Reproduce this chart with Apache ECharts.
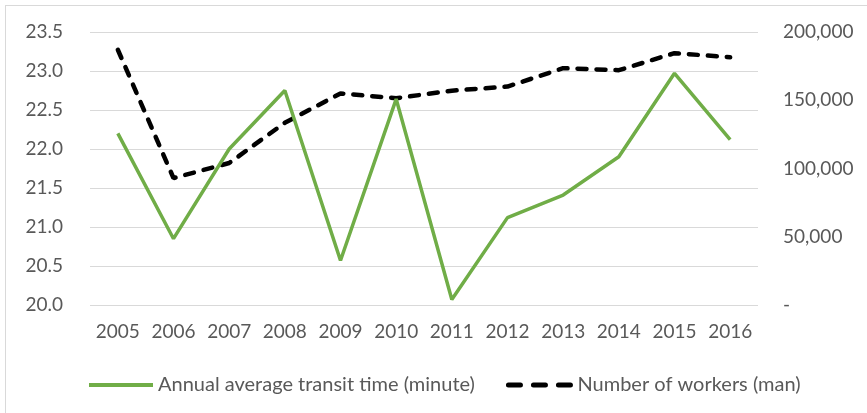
<!DOCTYPE html>
<html>
<head>
<meta charset="utf-8">
<script src="https://cdn.jsdelivr.net/npm/echarts@6/dist/echarts.min.js"></script>
<style>
  html, body { margin: 0; padding: 0; background: #fff; }
  #frame { position: absolute; left: 5px; top: 5px; width: 880px; height: 430px; border: 1.5px solid #d9d9d9; }
  #chart { position: absolute; left: 0; top: 0; width: 867px; height: 413px; }
</style>
</head>
<body>
<div id="frame"></div>
<div id="chart"></div>
<script>
// years on the x axis
const years = ['2005', '2006', '2007', '2008', '2009', '2010', '2011', '2012', '2013', '2014', '2015', '2016'];
// left axis: annual average transit time (minute)
const transitTime = [22.2, 20.85, 22.0, 22.75, 20.57, 22.64, 20.07, 21.12, 21.41, 21.9, 22.97, 22.12];
// right axis: number of workers (man)
const workers = [187000, 93000, 104000, 133500, 155000, 151500, 157000, 160000, 173500, 172000, 184500, 181500];

const transitName = 'Annual average transit time (minute)';
const workersName = 'Number of workers (man)';

const font = 'Lato, "Open Sans", sans-serif';
const chart = echarts.init(document.getElementById('chart'));
const option = {
    animation: false,
    grid: { left: 90, right: 109, top: 32, bottom: 108, outerBoundsMode: 'none' },
    legend: {
        top: 370,
        left: 82,
        itemWidth: 64,
        itemHeight: 10,
        itemGap: 31,
        itemStyle: { opacity: 0 },
        textStyle: { fontFamily: font, fontSize: 20, color: '#595959' },
        data: [
            { name: transitName, lineStyle: { width: 4 } },
            { name: workersName, lineStyle: { type: [12, 13], cap: 'round', width: 5 } }
        ]
    },
    xAxis: {
        type: 'category',
        data: years,
        axisLine: { show: false },
        axisTick: { show: false },
        axisLabel: { fontFamily: font, fontSize: 19, color: '#595959', margin: 17, interval: 0 }
    },
    yAxis: [
        {
            type: 'value',
            min: 20,
            max: 23.5,
            interval: 0.5,
            axisLabel: {
                fontFamily: font, fontSize: 19, color: '#595959', margin: 27,
                formatter: v => v.toFixed(1)
            },
            splitLine: { lineStyle: { color: '#d9d9d9', width: 1 } }
        },
        {
            type: 'value',
            min: 0,
            max: 200000,
            interval: 50000,
            axisLabel: {
                fontFamily: font, fontSize: 19, color: '#595959', margin: 25,
                formatter: v => v === 0 ? '-' : v.toLocaleString('en-US')
            },
            splitLine: { show: false }
        }
    ],
    series: [
        {
            name: transitName,
            type: 'line',
            yAxisIndex: 0,
            data: transitTime,
            symbol: 'none',
            lineStyle: { color: '#70AD47', width: 3.5 },
            itemStyle: { color: '#70AD47' }
        },
        {
            name: workersName,
            type: 'line',
            yAxisIndex: 1,
            data: workers,
            symbol: 'none',
            z: 1,
            lineStyle: { color: '#000', width: 4.5, type: [9, 10], cap: 'round' },
            itemStyle: { color: '#000' }
        }
    ]
};
chart.setOption(option);
</script>
</body>
</html>
